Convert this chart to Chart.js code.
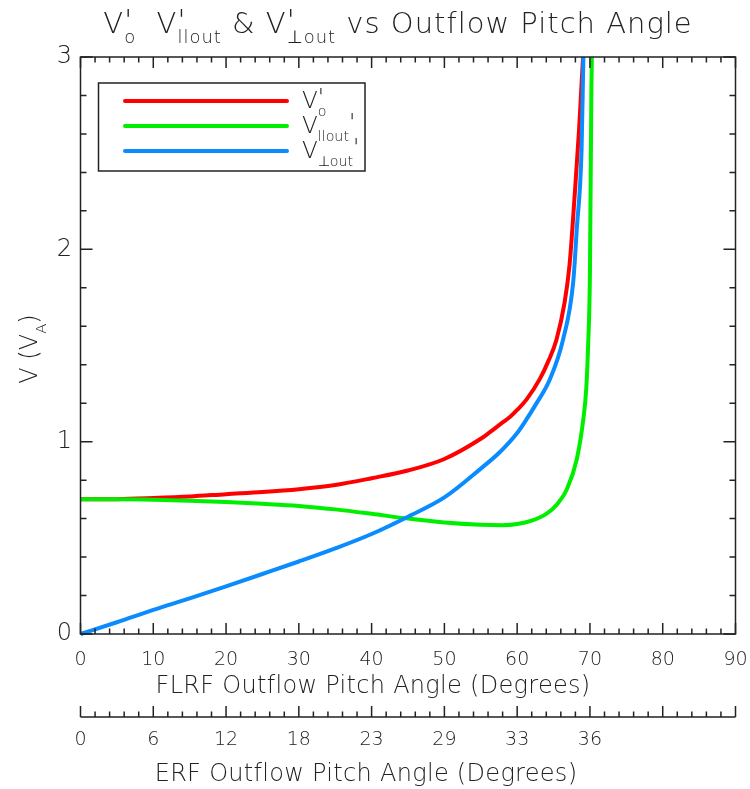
<html>
<head>
    <meta charset="UTF-8">
    <title>Vo' Vllout' & Vperp-out' vs Outflow Pitch Angle</title>
    <script src="https://cdn.jsdelivr.net/npm/chart.js"></script>
    <style>
        body { margin: 0; background: #fff; }
        #wrap { width: 750px; height: 789px; }
    </style>
</head>
<body>
    <div id="wrap"><canvas id="pitchChart"></canvas></div>
    <script>
        // values (FLRF angle in degrees, V in units of V_A)
        const redAngle = [0, 5, 10, 15, 20, 25, 30, 35, 40, 45, 50, 55, 56.2, 58, 59, 60, 61.3, 63.1, 64.3, 65.4, 66.5, 67.2, 67.9, 68.5, 68.85, 69.2];
        const redV = [0.70, 0.701, 0.707, 0.715, 0.727, 0.738, 0.753, 0.775, 0.81, 0.85, 0.91, 1.015, 1.048, 1.10, 1.128, 1.165, 1.22, 1.325, 1.42, 1.53, 1.72, 1.92, 2.28, 2.62, 2.86, 3.1];

        const greenAngle = [0, 5, 10, 15, 20, 25, 30, 35, 40, 45, 50, 55, 58, 60, 62, 64, 65.5, 66.8, 68.2, 69.1, 69.5, 69.75, 70, 70.2, 70.35];
        const greenV = [0.70, 0.70, 0.698, 0.693, 0.686, 0.677, 0.666, 0.648, 0.625, 0.60, 0.58, 0.568, 0.566, 0.572, 0.59, 0.625, 0.675, 0.75, 0.91, 1.12, 1.28, 1.5, 1.88, 2.84, 3.2];

        const blueAngle = [0, 5, 10, 15, 20, 25, 30, 35, 40, 45, 50, 55, 57.6, 60, 61.3, 62.5, 64.5, 66.3, 67.7, 68.2, 68.85, 69.1, 69.25];
        const blueV = [0, 0.061, 0.125, 0.185, 0.248, 0.312, 0.377, 0.445, 0.52, 0.61, 0.71, 0.86, 0.945, 1.045, 1.117, 1.19, 1.325, 1.53, 1.83, 2.11, 2.52, 3.0, 3.2];

        const flrfTicks = [0, 10, 20, 30, 40, 50, 60, 70, 80, 90];
        const erfLabels = ['0', '6', '12', '18', '23', '29', '33', '36', '', ''];
        const vTicks = [0, 1, 2, 3];

        const FONT = '"DejaVu Sans", "Liberation Sans", sans-serif';
        const INK = '#222';

        function pts(xs, ys) {
            return xs.map((x, i) => ({ x: x, y: ys[i] }));
        }

        // text with super/subscripts; parts with stack:true start where the previous part started
        function rich(ctx, parts, x, y, size, draw) {
            let cx = x, lastStart = x;
            for (const p of parts) {
                let s = size, dy = 0;
                if (p.mode === 'sub') { s = size * 0.62; dy = size * 0.36; }
                if (p.mode === 'prime') { s = size; dy = -size * 0.12; }
                ctx.font = '200 ' + s + 'px ' + FONT;
                const w = ctx.measureText(p.t).width;
                const px = p.stack ? lastStart : cx;
                if (draw) ctx.fillText(p.t, px, y + dy);
                if (p.stack) {
                    cx = Math.max(cx, px + w);
                } else {
                    lastStart = px;
                    cx = px + w;
                }
            }
            return cx - x;
        }

        function richCentered(ctx, parts, cx, y, size) {
            const w = rich(ctx, parts, 0, 0, size, false);
            rich(ctx, parts, cx - w / 2, y, size, true);
        }

        const B = t => ({ t: t, mode: 'base' });
        const PRIME = stack => ({ t: '\'', mode: 'prime', stack: !!stack });
        const SUB = (t, stack) => ({ t: t, mode: 'sub', stack: !!stack });

        const titleParts = [B('V'), PRIME(), SUB('o', true), B('  V'), PRIME(), SUB('llout', true),
            B(' & V'), PRIME(), SUB('\u22A5out', true), B(' vs Outflow Pitch Angle')];
        const legendParts = [
            [B('V'), PRIME(), SUB('o', true)],
            [B('V'), SUB('llout'), PRIME()],
            [B('V'), SUB('\u22A5out'), PRIME()]
        ];

        const framePlugin = {
            id: 'frame',
            afterDraw(chart) {
                const ctx = chart.ctx;
                const a = chart.chartArea;
                const xs = chart.scales.x, ys = chart.scales.y, x2 = chart.scales.x2;
                ctx.save();
                ctx.strokeStyle = INK;
                ctx.fillStyle = INK;
                ctx.lineWidth = 1.5;
                ctx.strokeRect(a.left, a.top, a.right - a.left, a.bottom - a.top);

                // ticks on all four sides, pointing inward
                ctx.beginPath();
                for (let v = 0; v <= 90; v += 2) {
                    const px = xs.getPixelForValue(v);
                    const len = v % 10 === 0 ? 11 : 5.5;
                    ctx.moveTo(px, a.bottom); ctx.lineTo(px, a.bottom - len);
                    ctx.moveTo(px, a.top); ctx.lineTo(px, a.top + len);
                }
                for (let i = 0; i <= 15; i++) {
                    const py = ys.getPixelForValue(i * 0.2);
                    const len = i % 5 === 0 ? 12 : 6;
                    ctx.moveTo(a.left, py); ctx.lineTo(a.left + len, py);
                    ctx.moveTo(a.right, py); ctx.lineTo(a.right - len, py);
                }
                // second (ERF) axis
                const ay = x2.top + 17;
                ctx.moveTo(x2.getPixelForValue(0), ay); ctx.lineTo(x2.getPixelForValue(90), ay);
                for (let v = 0; v <= 90; v += 2) {
                    const px = x2.getPixelForValue(v);
                    const len = v % 10 === 0 ? 11 : 5.5;
                    ctx.moveTo(px, ay); ctx.lineTo(px, ay - len);
                }
                ctx.stroke();

                // titles
                ctx.textBaseline = 'alphabetic';
                ctx.textAlign = 'left';
                ctx.letterSpacing = '1px';
                richCentered(ctx, titleParts, 398, 33, 29);
                ctx.letterSpacing = '0.3px';
                richCentered(ctx, [B('FLRF Outflow Pitch Angle (Degrees)')], 373, 693, 24);
                richCentered(ctx, [B('ERF Outflow Pitch Angle (Degrees)')], 366, 781, 24);

                ctx.letterSpacing = '0px';
                ctx.save();
                ctx.translate(37, 349);
                ctx.rotate(-Math.PI / 2);
                richCentered(ctx, [B('V (V'), SUB('A'), B(')')], 0, 0, 24);
                ctx.restore();

                // legend
                const lx = 98.5, ly = 83, lw = 266.5, lh = 88;
                ctx.fillStyle = '#fff';
                ctx.fillRect(lx, ly, lw, lh);
                ctx.strokeRect(lx, ly, lw, lh);
                chart.data.datasets.forEach((ds, i) => {
                    const y = 101 + i * 25;
                    ctx.strokeStyle = ds.borderColor;
                    ctx.lineWidth = 4;
                    ctx.lineCap = 'round';
                    ctx.beginPath();
                    ctx.moveTo(125, y); ctx.lineTo(287, y);
                    ctx.stroke();
                    ctx.fillStyle = INK;
                    rich(ctx, legendParts[i], 302, y + 7, 23, true);
                });
                ctx.restore();
            }
        };

        const common = {
            showLine: true,
            pointRadius: 0,
            borderWidth: 4,
            cubicInterpolationMode: 'monotone',
            clip: { left: 3, bottom: 3, top: 0, right: 0 }
        };

        // labels are pushed away from the axis with an invisible tick length,
        // so the tick padding does not widen the right margin
        const config = {
            type: 'scatter',
            data: {
                datasets: [
                    Object.assign({ label: "Vo'", data: pts(redAngle, redV), borderColor: '#ff0000', order: 3 }, common),
                    Object.assign({ label: "Vllout'", data: pts(greenAngle, greenV), borderColor: '#00ee00', order: 2 }, common),
                    Object.assign({ label: "Vperp-out'", data: pts(blueAngle, blueV), borderColor: '#0a8cff', order: 1 }, common)
                ]
            },
            options: {
                responsive: true,
                maintainAspectRatio: false,
                animation: false,
                layout: { padding: { top: 57, right: 14.5, bottom: 0, left: 0 } },
                plugins: { legend: { display: false }, tooltip: { enabled: false }, title: { display: false } },
                scales: {
                    x: {
                        type: 'linear', position: 'bottom', weight: 0,
                        min: 0, max: 90,
                        afterBuildTicks: s => { s.ticks = flrfTicks.map(v => ({ value: v })); },
                        ticks: { padding: 0, color: INK, font: { family: FONT, size: 19, weight: '200' } },
                        grid: { display: false, drawTicks: true, tickLength: 14.6 },
                        border: { display: false },
                        afterFit: s => { s.height = 66; }
                    },
                    x2: {
                        type: 'linear', position: 'bottom', weight: 1,
                        min: 0, max: 90,
                        afterBuildTicks: s => { s.ticks = flrfTicks.map(v => ({ value: v })); },
                        ticks: {
                            padding: 0, color: INK, font: { family: FONT, size: 19, weight: '200' },
                            callback: (v, i) => erfLabels[i]
                        },
                        grid: { display: false, drawTicks: true, tickLength: 28.6 },
                        border: { display: false },
                        afterFit: s => { s.height = 89; }
                    },
                    y: {
                        type: 'linear', min: 0, max: 3,
                        afterBuildTicks: s => { s.ticks = vTicks.map(v => ({ value: v })); },
                        ticks: { padding: 0, color: INK, font: { family: FONT, size: 24, weight: '200' } },
                        grid: { display: false, drawTicks: true, tickLength: 8.5 },
                        border: { display: false },
                        afterFit: s => { s.width = 80.5; }
                    }
                }
            },
            plugins: [framePlugin]
        };

        const pitchChart = new Chart(document.getElementById('pitchChart').getContext('2d'), config);
    </script>
</body>
</html>
